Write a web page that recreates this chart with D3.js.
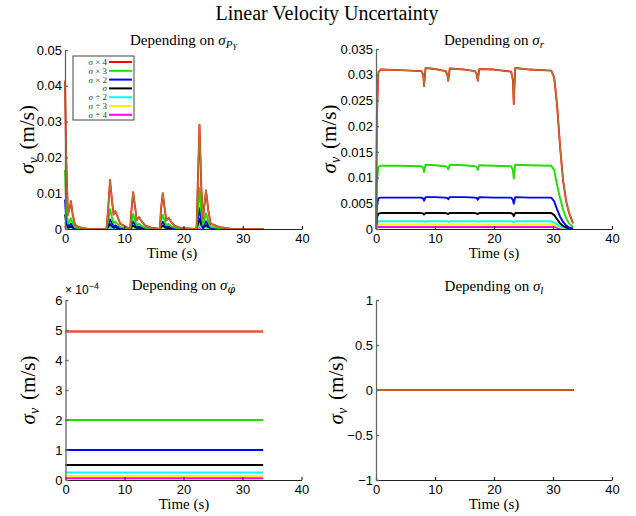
<!DOCTYPE html>
<html>
<head>
<meta charset="utf-8">
<script src="https://cdn.jsdelivr.net/npm/d3@7"></script>
<style>
  body { margin: 0; background: #fff; }
</style>
</head>
<body>
<script>
// legend entries, one per scale factor of sigma
const seriesNames = ['× 4', '× 3', '× 2', '', '÷ 2', '÷ 3', '÷ 4'];

// --- panel 1 : depending on sigma_PY ---
const tPY = [0, 0.2, 0.5, 0.8, 1.0, 1.3, 1.7, 2.2, 3.0, 4.0,
  7.0, 7.3, 7.6, 7.9, 8.2, 8.5, 8.8, 9.3, 10.2, 11.0,
  11.2, 11.5, 11.8, 12.1, 12.5, 12.9, 13.5, 14.5, 16.0, 16.2,
  16.5, 16.8, 17.1, 17.5, 17.9, 18.5, 19.5, 22.2, 22.4, 22.7,
  23.0, 23.3, 23.8, 24.2, 24.6, 25.1, 25.6, 26.5, 28.0, 33.5];
const pyX4 = [0.0414, 0.020, 0.004, 0.0060, 0.0078, 0.0040, 0.0012, 0.0006, 0.0003, 0,
  0, 0.0060, 0.0137, 0.0085, 0.0040, 0.0050, 0.0038, 0.0015, 0.0007, 0,
  0.0050, 0.0103, 0.0065, 0.0025, 0.0033, 0.0022, 0.0010, 0.0004, 0, 0.0055,
  0.0100, 0.0060, 0.0024, 0.0031, 0.0020, 0.0009, 0.0003, 0, 0.0120, 0.0291,
  0.0120, 0.0030, 0.0108, 0.0050, 0.0014, 0.0012, 0.0008, 0.0004, 0.0001, 0];
const pyX3 = [0.0165, 0.0070, 0.0015, 0.0022, 0.0030, 0.0016, 0.0005, 0.0002, 0.0001, 0,
  0, 0.0024, 0.0055, 0.0034, 0.0016, 0.0021, 0.0015, 0.0006, 0.0003, 0,
  0.0020, 0.0042, 0.0026, 0.0010, 0.0015, 0.0009, 0.0004, 0.0002, 0, 0.0022,
  0.0040, 0.0024, 0.0010, 0.0014, 0.0008, 0.0004, 0.0001, 0, 0.0048, 0.0115,
  0.0048, 0.0012, 0.0044, 0.0020, 0.0006, 0.0005, 0.0003, 0.0001, 0, 0];
const pyX2 = [0.0082, 0.0035, 0.0008, 0.0011, 0.0015, 0.0008, 0.0003, 0.0001, 0, 0,
  0, 0.0012, 0.0027, 0.0017, 0.0008, 0.0010, 0.0007, 0.0003, 0.0001, 0,
  0.0010, 0.0021, 0.0013, 0.0005, 0.0007, 0.0004, 0.0002, 0.0001, 0, 0.0011,
  0.0020, 0.0012, 0.0005, 0.0007, 0.0004, 0.0002, 0, 0, 0.0024, 0.0058,
  0.0024, 0.0006, 0.0022, 0.0010, 0.0003, 0.0002, 0.0001, 0, 0, 0];
const pyX1 = [0.0041, 0.0018, 0.0004, 0.0005, 0.0007, 0.0004, 0.0001, 0, 0, 0,
  0, 0.0006, 0.0014, 0.0008, 0.0004, 0.0005, 0.0003, 0.0001, 0, 0,
  0.0005, 0.0010, 0.0006, 0.0003, 0.0004, 0.0002, 0.0001, 0, 0, 0.0005,
  0.0010, 0.0006, 0.0003, 0.0003, 0.0002, 0.0001, 0, 0, 0.0012, 0.0029,
  0.0012, 0.0003, 0.0011, 0.0005, 0.0002, 0.0001, 0, 0, 0, 0];
const pyD2 = [0.0020, 0.0009, 0.0002, 0.0003, 0.0004, 0.0002, 0, 0, 0, 0,
  0, 0.0003, 0.0007, 0.0004, 0.0002, 0.0002, 0.0002, 0, 0, 0,
  0.0002, 0.0005, 0.0003, 0.0001, 0.0002, 0.0001, 0, 0, 0, 0.0002,
  0.0005, 0.0003, 0.0001, 0.0002, 0.0001, 0, 0, 0, 0.0006, 0.0014,
  0.0006, 0.0002, 0.0005, 0.0002, 0.0001, 0, 0, 0, 0, 0];
const pyD3 = [0.0013, 0.0006, 0.0001, 0.0002, 0.0003, 0.0001, 0, 0, 0, 0,
  0, 0.0002, 0.0005, 0.0003, 0.0001, 0.0001, 0.0001, 0, 0, 0,
  0.0001, 0.0003, 0.0002, 0.0001, 0.0001, 0, 0, 0, 0, 0.0001,
  0.0003, 0.0002, 0.0001, 0.0001, 0, 0, 0, 0, 0.0004, 0.0009,
  0.0004, 0.0001, 0.0003, 0.0001, 0, 0, 0, 0, 0, 0];
const pyD4 = [0.0008, 0.0003, 0.0001, 0.0001, 0.0002, 0.0001, 0, 0, 0, 0,
  0, 0.0001, 0.0003, 0.0002, 0.0001, 0.0001, 0, 0, 0, 0,
  0.0001, 0.0002, 0.0001, 0, 0.0001, 0, 0, 0, 0, 0.0001,
  0.0002, 0.0001, 0, 0.0001, 0, 0, 0, 0, 0.0002, 0.0005,
  0.0002, 0.0001, 0.0002, 0.0001, 0, 0, 0, 0, 0, 0];

// --- panel 2 : depending on sigma_r ---
const tR = [0, 0.15, 0.4, 0.8, 4, 7.7, 8.0, 8.15, 8.4, 10,
  11.8, 12.1, 12.25, 12.5, 15, 16.8, 17.1, 17.25, 17.5, 20,
  22.9, 23.2, 23.35, 23.6, 26, 29.7, 30.2, 30.7, 31.2, 31.7,
  32.2, 32.7, 33.4];
const rX4 = [0, 0.022, 0.0305, 0.0310, 0.0309, 0.0307, 0.0300, 0.0278, 0.0313, 0.0311,
  0.0307, 0.0300, 0.0288, 0.0312, 0.0310, 0.0307, 0.0300, 0.0288, 0.0311, 0.0310,
  0.0306, 0.0290, 0.0243, 0.0313, 0.0310, 0.0308, 0.0295, 0.0240, 0.0160, 0.0095,
  0.0056, 0.0032, 0.0011];
const rX3 = [0, 0.0090, 0.0121, 0.0123, 0.0123, 0.0122, 0.0119, 0.0111, 0.0125, 0.0124,
  0.0122, 0.0120, 0.0116, 0.0125, 0.0124, 0.0122, 0.0120, 0.0115, 0.0124, 0.0123,
  0.0122, 0.0115, 0.0098, 0.0125, 0.0124, 0.0123, 0.0115, 0.0085, 0.0060, 0.0038,
  0.0022, 0.0011, 0.0004];
const rX2 = [0, 0.0045, 0.0060, 0.0061, 0.0061, 0.0061, 0.0059, 0.0055, 0.0062, 0.0062,
  0.0061, 0.0060, 0.0058, 0.0062, 0.0062, 0.0061, 0.0060, 0.0057, 0.0062, 0.0061,
  0.0061, 0.0057, 0.0049, 0.0062, 0.0061, 0.0061, 0.0054, 0.0038, 0.0024, 0.0014,
  0.0007, 0.0003, 0.0001];
const rX1 = [0, 0.0022, 0.0030, 0.0031, 0.0031, 0.0031, 0.0030, 0.0028, 0.0031, 0.0031,
  0.0031, 0.0030, 0.0029, 0.0031, 0.0031, 0.0031, 0.0030, 0.0029, 0.0031, 0.0031,
  0.0031, 0.0029, 0.0025, 0.0031, 0.0031, 0.0031, 0.0027, 0.0019, 0.0011, 0.0006,
  0.0003, 0.0001, 0];
const rD2 = [0, 0.0011, 0.0015, 0.0015, 0.0015, 0.0015, 0.0015, 0.0014, 0.0015, 0.0015,
  0.0015, 0.0015, 0.0014, 0.0015, 0.0015, 0.0015, 0.0015, 0.0014, 0.0015, 0.0015,
  0.0015, 0.0014, 0.0013, 0.0015, 0.0015, 0.0015, 0.0013, 0.0009, 0.0005, 0.0003,
  0.0001, 0, 0];
const rD3 = [0, 0.0007, 0.0009, 0.0009, 0.0009, 0.0009, 0.0009, 0.0009, 0.0009, 0.0009,
  0.0009, 0.0009, 0.0009, 0.0009, 0.0009, 0.0009, 0.0009, 0.0009, 0.0009, 0.0009,
  0.0009, 0.0009, 0.0008, 0.0009, 0.0009, 0.0009, 0.0008, 0.0005, 0.0003, 0.0002,
  0.0001, 0, 0];
const rD4 = [0, 0.0003, 0.0004, 0.0004, 0.0004, 0.0004, 0.0004, 0.0004, 0.0004, 0.0004,
  0.0004, 0.0004, 0.0004, 0.0004, 0.0004, 0.0004, 0.0004, 0.0004, 0.0004, 0.0004,
  0.0004, 0.0004, 0.0004, 0.0004, 0.0004, 0.0004, 0.0004, 0.0002, 0.0001, 0.0001,
  0, 0, 0];

// --- panel 3 : depending on sigma_phidot (constant levels) ---
const tPhi = [0, 33.5];
const phiLevels = [4.95e-4, 2.0e-4, 1.0e-4, 0.5e-4, 0.25e-4, 0.13e-4, 0.06e-4];

// --- panel 4 : depending on sigma_l (all zero) ---
const tL = [0, 33.5];
const lLevels = [0, 0, 0, 0, 0, 0, 0];

const yTicksPY = [0, 0.01, 0.02, 0.03, 0.04, 0.05];
const yTicksR = [0, 0.005, 0.01, 0.015, 0.02, 0.025, 0.03, 0.035];
const yTicksPhi = [0, 1e-4, 2e-4, 3e-4, 4e-4, 5e-4, 6e-4];
const yTicksL = [-1, -0.5, 0, 0.5, 1];
const xTicks = [0, 10, 20, 30, 40];

const colors = ['#ff0000', '#22dd00', '#0000ff', '#000000', '#00ffff', '#ffee00', '#ff00ff'];
const brown = '#b5742f';
const serif = '"Liberation Serif", "DejaVu Serif", serif';
const sans = '"Liberation Sans", Arial, sans-serif';

const svg = d3.select('body').append('svg')
  .attr('width', 636)
  .attr('height', 516);

svg.append('text')
  .attr('x', 327).attr('y', 20)
  .attr('text-anchor', 'middle')
  .style('font-family', serif).style('font-size', '20px')
  .text('Linear Velocity Uncertainty');

function levelSeries(levels, t) {
  return levels.map(v => t.map(() => v));
}

function panel(o) {
  const g = svg.append('g').attr('transform', `translate(${o.left}, ${o.top})`);
  const x = d3.scaleLinear().domain([0, 40]).range([0, o.w]);
  const y = d3.scaleLinear().domain(o.yDomain).range([o.h, 0]);
  const line = d3.line().x(d => x(d[0])).y(d => y(d[1]));

  // smallest first, the x4 curve ends on top
  for (let i = o.series.length - 1; i >= 0; i--) {
    g.append('path')
      .datum(d3.zip(o.t, o.series[i]))
      .attr('d', line)
      .attr('fill', 'none')
      .attr('stroke', colors[i])
      .attr('stroke-width', 1.9)
      .attr('stroke-linejoin', 'round');
  }
  g.append('path')
    .datum(d3.zip(o.t, o.series[0]))
    .attr('d', line)
    .attr('fill', 'none')
    .attr('stroke', brown)
    .attr('stroke-width', 1.4)
    .attr('stroke-linejoin', 'round');

  const xAxis = g.append('g')
    .attr('transform', `translate(0, ${o.h})`)
    .call(d3.axisBottom(x).tickValues(xTicks).tickSizeInner(-3).tickSizeOuter(0).tickPadding(5));
  xAxis.selectAll('path, line').attr('stroke', '#222').attr('stroke-width', 1.2);

  const yAxis = g.append('g')
    .call(d3.axisLeft(y).tickValues(o.yTicks).tickFormat(o.fmt).tickSizeInner(-3).tickSizeOuter(0).tickPadding(3));
  yAxis.selectAll('path, line').attr('stroke', '#666').attr('stroke-width', 1.3);

  g.selectAll('.tick text')
    .attr('fill', '#000')
    .style('font-family', sans)
    .style('font-size', '13px');

  // x label
  svg.append('text')
    .attr('x', o.xLabelX).attr('y', o.top + o.h + 29)
    .attr('text-anchor', 'middle')
    .style('font-family', serif).style('font-size', '15px')
    .text('Time (s)');

  // y label
  const yl = svg.append('text')
    .attr('transform', `translate(${o.yLabelX}, ${o.top + o.h / 2}) rotate(-90)`)
    .attr('text-anchor', 'middle')
    .style('font-family', serif).style('font-size', '21px');
  yl.append('tspan').style('font-style', 'italic').text('σ');
  yl.append('tspan').style('font-style', 'italic').style('font-size', '14px').attr('dy', 4).text('v');
  yl.append('tspan').attr('dy', -4).attr('dx', 8).text('(m/s)');

  // subtitle
  const st = svg.append('text')
    .attr('x', o.left + o.w / 2).attr('y', o.subY)
    .attr('text-anchor', 'middle')
    .style('font-family', serif).style('font-size', '15px');
  st.append('tspan').text('Depending on ');
  st.append('tspan').style('font-style', 'italic').text('σ');
  o.sub(st);
  return g;
}

panel({
  left: 65, top: 50, w: 237, h: 179,
  t: tPY, series: [pyX4, pyX3, pyX2, pyX1, pyD2, pyD3, pyD4],
  yDomain: [0, 0.05], yTicks: yTicksPY, fmt: d => String(d),
  xLabelX: 172, yLabelX: 34, subY: 45,
  sub: st => {
    st.append('tspan').style('font-style', 'italic').style('font-size', '11px').attr('dy', 3).text('P');
    st.append('tspan').style('font-style', 'italic').style('font-size', '8px').attr('dy', 2).text('Y');
  }
});

panel({
  left: 376, top: 49, w: 236, h: 180,
  t: tR, series: [rX4, rX3, rX2, rX1, rD2, rD3, rD4],
  yDomain: [0, 0.035], yTicks: yTicksR, fmt: d => String(d),
  xLabelX: 494, yLabelX: 336, subY: 45,
  sub: st => {
    st.append('tspan').style('font-style', 'italic').style('font-size', '11px').attr('dy', 3).text('r');
  }
});

panel({
  left: 65.5, top: 300, w: 236, h: 180,
  t: tPhi, series: levelSeries(phiLevels, tPhi),
  yDomain: [0, 6e-4], yTicks: yTicksPhi, fmt: d => String(Math.round(d * 1e4)),
  xLabelX: 184, yLabelX: 35, subY: 290,
  sub: st => {
    st.append('tspan').style('font-style', 'italic').style('font-size', '11px')
      .style('font-family', '"DejaVu Serif", serif').attr('dy', 3).text('φ̇');
  }
});

panel({
  left: 376, top: 300, w: 236, h: 180,
  t: tL, series: levelSeries(lLevels, tL),
  yDomain: [-1, 1], yTicks: yTicksL, fmt: d3.format(''),
  xLabelX: 494, yLabelX: 343, subY: 291,
  sub: st => {
    st.append('tspan').style('font-style', 'italic').style('font-size', '11px').attr('dy', 3).text('l');
  }
});

// exponent note for the third panel
const ex = svg.append('text')
  .attr('x', 65).attr('y', 294)
  .style('font-family', sans).style('font-size', '12px');
ex.append('tspan').text('× 10');
ex.append('tspan').style('font-size', '9px').attr('dy', -5).text('−4');

// legend of first panel
const legend = svg.append('g').attr('transform', 'translate(73, 56)');
legend.append('rect')
  .attr('width', 61).attr('height', 64)
  .attr('fill', '#fff').attr('stroke', '#444').attr('stroke-width', 1);
seriesNames.forEach((name, i) => {
  const yy = 6 + i * 8.8;
  const tx = legend.append('text')
    .attr('x', 34).attr('y', yy + 3)
    .attr('text-anchor', 'end')
    .style('font-family', serif).style('font-size', '9px').attr('fill', '#333');
  tx.append('tspan').style('font-style', 'italic').text('σ');
  if (name) tx.append('tspan').text(' ' + name);
  legend.append('line')
    .attr('x1', 36).attr('x2', 59).attr('y1', yy).attr('y2', yy)
    .attr('stroke', colors[i]).attr('stroke-width', 2);
});
</script>
</body>
</html>
